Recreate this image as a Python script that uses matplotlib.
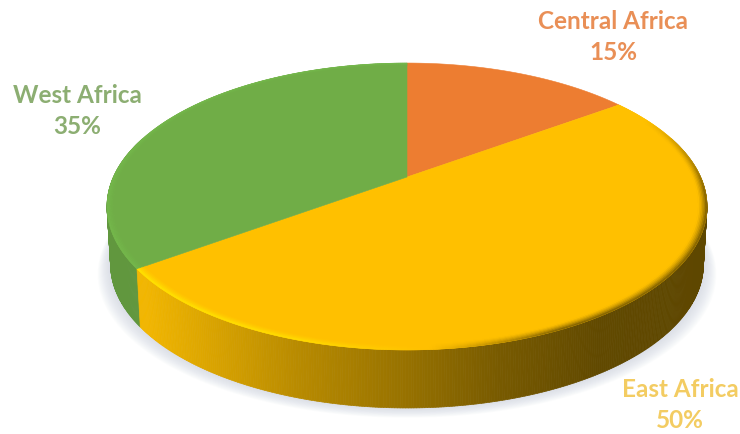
import numpy as np
import matplotlib
matplotlib.use("Agg")
import matplotlib.pyplot as plt
from matplotlib.collections import PolyCollection
from matplotlib.colors import to_rgb
from matplotlib.patches import Polygon

regions = ["Central Africa", "East Africa", "West Africa"]
shares = [15, 50, 35]
slice_colors = ["#ED7D31", "#FFC000", "#70AD47"]
label_colors = ["#E98F56", "#F3CC62", "#8CAE72"]
label_pos = [(613, 37), (680, 405), (77, 111)]

# projection of the disc, in pixels
CX, CY = 407, 177
RX, RY = 293.6, 137.4
PERSP = 0.2056
DEPTH = 58


def project(theta, r=1.0, level=0.0):
    """theta runs clockwise from the back of the disc, level 1 is the underside."""
    d = 1 + PERSP * r * np.cos(theta)
    x = CX + (1 - 0.012 * level) * RX * r * np.sin(theta) / d
    y = CY - RY * r * np.cos(theta) / d + DEPTH * level
    return x, y


def slice_index(theta, edges):
    return min(np.searchsorted(edges, theta % (2 * np.pi), side="right") - 1, len(shares) - 1)


def wall_light(x, idx):
    if idx == 1:
        return np.interp(x, [145, 200, 300, 400, 500, 600, 700],
                         [0.95, 0.87, 0.72, 0.60, 0.47, 0.38, 0.37])
    return 0.87


def rim_color(theta, idx):
    x, _ = project(theta)
    base = np.array(to_rgb(slice_colors[idx]))
    if idx == 2:
        return np.array(to_rgb("#74B84B"))
    if idx == 1:
        # bright highlight on the left of the front edge, dark on the right
        glow = np.interp(x, [140, 300, 430], [1.0, 0.8, 0.0])
        dark = np.interp(x, [430, 560], [0.0, 0.85])
        dark *= np.interp(np.cos(theta), [-0.1, 0.45], [1.0, 0.0])
        color = (1 - glow) * base + glow * np.array(to_rgb("#FFE600"))
        return (1 - dark) * color + dark * np.array(to_rgb("#604800"))
    return base


def draw_shadow(ax):
    t = np.linspace(0, 2 * np.pi, 240)
    x, y = project(t, 1.0, 1.0)
    for grow in np.linspace(13, 1, 13):
        sx = CX + (x - CX) * (1 + grow / 300)
        sy = y + grow * 0.75
        ax.add_patch(Polygon(np.column_stack([sx, sy]), closed=True,
                             fc="#C6CCDC", ec="none", alpha=0.06, zorder=1))


def draw_wall(ax, edges):
    thetas = np.linspace(np.pi / 2 - 0.3, 3 * np.pi / 2 + 0.3, 500)
    order = np.argsort(-np.cos(thetas))
    polys, colors = [], []
    for i in order:
        if i + 1 >= len(thetas):
            continue
        a, b = thetas[i], thetas[i + 1]
        xa0, ya0 = project(a)
        xb0, yb0 = project(b)
        xa1, ya1 = project(a, level=1)
        xb1, yb1 = project(b, level=1)
        idx = slice_index((a + b) / 2, edges)
        polys.append([(xa0, ya0), (xb0, yb0), (xb1, yb1), (xa1, ya1)])
        colors.append(np.array(to_rgb(slice_colors[idx])) * wall_light((xa0 + xb0) / 2, idx))
    ax.add_collection(PolyCollection(polys, facecolors=colors, edgecolors=colors,
                                     linewidths=0.5, zorder=2))


def draw_top(ax, edges):
    for i, color in enumerate(slice_colors):
        t = np.linspace(edges[i], edges[i + 1], 200)
        x, y = project(t)
        pts = np.column_stack([np.r_[CX, x], np.r_[CY, y]])
        ax.add_patch(Polygon(pts, closed=True, fc=color, ec=color, lw=0.4, zorder=3))


def draw_rim(ax, edges):
    # soft bevel along the outer edge of the top face
    radii = np.linspace(0.972, 1.0, 7)
    thetas = np.linspace(0, 2 * np.pi, 721)
    polys, colors = [], []
    for r0, r1 in zip(radii[:-1], radii[1:]):
        mix = ((r0 + r1) / 2 - radii[0]) / (radii[-1] - radii[0])
        mix = mix ** 1.5
        for a, b in zip(thetas[:-1], thetas[1:]):
            mid = (a + b) / 2
            idx = slice_index(mid, edges)
            if idx == 0:
                continue
            base = np.array(to_rgb(slice_colors[idx]))
            polys.append([project(a, r0), project(b, r0), project(b, r1), project(a, r1)])
            colors.append((1 - mix) * base + mix * rim_color(mid, idx))
    ax.add_collection(PolyCollection(polys, facecolors=colors, edgecolors=colors,
                                     linewidths=0.3, zorder=4))


def main():
    fig = plt.figure(figsize=(7.4, 4.34), dpi=100)
    ax = fig.add_axes([0, 0, 1, 1])
    ax.set_xlim(0, 740)
    ax.set_ylim(434, 0)
    ax.axis("off")

    edges = np.r_[0, np.cumsum(shares)] / sum(shares) * 2 * np.pi

    draw_shadow(ax)
    draw_wall(ax, edges)
    draw_top(ax, edges)
    draw_rim(ax, edges)

    for name, share, color, (x, y) in zip(regions, shares, label_colors, label_pos):
        ax.text(x, y, f"{name}\n{share}%", color=color, ha="center", va="center",
                fontsize=17.5, fontweight="bold", family="Lato", linespacing=1.38,
                zorder=5)

    fig.savefig("out.png", dpi=100)
    plt.close(fig)


if __name__ == "__main__":
    main()
